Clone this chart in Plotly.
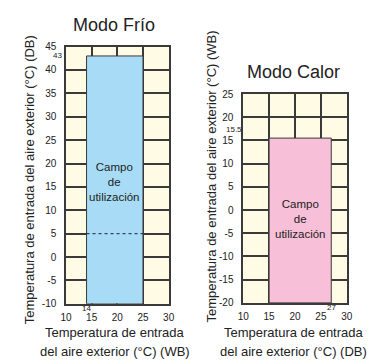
import plotly.graph_objects as go

# ---- data ----
cool_x_range = [14, 25]      # outdoor WB
cool_y_range = [-10, 43]     # outdoor DB
cool_dotted_y = 5
heat_x_range = [15, 27]      # outdoor DB
heat_y_range = [-20, 15.5]   # outdoor WB

cool_yticks = [-10, -5, 0, 5, 10, 15, 20, 25, 30, 35, 40, 45]
heat_yticks = [-20, -15, -10, -5, 0, 5, 10, 15, 20, 25]
xticks = [10, 15, 20, 25, 30]

title_cool = "Modo Frío"
title_heat = "Modo Calor"
ytitle_cool = "Temperatura de entrada del aire exterior (°C) (DB)"
ytitle_heat = "Temperatura de entrada del aire exterior (°C) (WB)"
xtitle_line1 = "Temperatura de entrada"
xtitle_cool_line2 = "del aire exterior (°C) (WB)"
xtitle_heat_line2 = "del aire exterior (°C) (DB)"
area_label = "Campo<br>de<br>utilización"

W, H = 377, 364
FONT = "Liberation Sans, Arial, sans-serif"
TXT = "#222"
GRID = "#3a3a3a"
CREAM = "#fffbe4"
BLUE = "#a8dcf6"
PINK = "#f7c0d8"


def px(x):
    return x / W


def py(y):
    return 1 - y / H


def lbl(v):
    return str(v)


fig = go.Figure()

# cooling rectangle
fig.add_trace(go.Scatter(
    x=[cool_x_range[0], cool_x_range[1], cool_x_range[1], cool_x_range[0], cool_x_range[0]],
    y=[cool_y_range[0], cool_y_range[0], cool_y_range[1], cool_y_range[1], cool_y_range[0]],
    fill="toself", fillcolor=BLUE, mode="lines",
    line=dict(color=GRID, width=1), xaxis="x", yaxis="y", hoverinfo="skip"))
fig.add_trace(go.Scatter(
    x=cool_x_range, y=[cool_dotted_y, cool_dotted_y], mode="lines",
    line=dict(color="#1a1a3a", width=1, dash="dot"), xaxis="x", yaxis="y", hoverinfo="skip"))
# heating rectangle
fig.add_trace(go.Scatter(
    x=[heat_x_range[0], heat_x_range[1], heat_x_range[1], heat_x_range[0], heat_x_range[0]],
    y=[heat_y_range[0], heat_y_range[0], heat_y_range[1], heat_y_range[1], heat_y_range[0]],
    fill="toself", fillcolor=PINK, mode="lines",
    line=dict(color=GRID, width=1), xaxis="x2", yaxis="y2", hoverinfo="skip"))

axis_common = dict(
    showgrid=True, gridcolor=GRID, gridwidth=1.5,
    showline=True, linecolor=GRID, linewidth=1.5, mirror=True,
    zeroline=False, ticks="outside", tickcolor="rgba(0,0,0,0)",
    tickfont=dict(family=FONT, size=10, color=TXT),
    fixedrange=True,
)

fig.update_layout(
    width=W, height=H,
    margin=dict(l=0, r=0, t=0, b=0),
    paper_bgcolor="white", plot_bgcolor=CREAM,
    showlegend=False,
    xaxis=dict(domain=[px(62), px(168)], range=[10, 30], anchor="y",
               tickvals=xticks, ticktext=[lbl(v) for v in xticks], ticklen=3, **axis_common),
    yaxis=dict(domain=[py(308), py(42)], range=[-10, 45], anchor="x",
               tickvals=cool_yticks, ticktext=[lbl(v) for v in cool_yticks], ticklen=6, **axis_common),
    xaxis2=dict(domain=[px(245), px(352)], range=[10, 30], anchor="y2",
                tickvals=xticks, ticktext=[lbl(v) for v in xticks], ticklen=3, **axis_common),
    yaxis2=dict(domain=[py(307), py(91)], range=[-20, 25], anchor="x2",
                tickvals=heat_yticks, ticktext=[lbl(v) for v in heat_yticks], ticklen=6, **axis_common),
)

ann = []


def add(text, x, y, size, xref="paper", yref="paper", angle=0):
    ann.append(dict(text=text, x=x, y=y, xref=xref, yref=yref, textangle=angle,
                    xanchor="center", yanchor="middle", showarrow=False,
                    font=dict(family=FONT, size=size, color=TXT)))


# titles
add(title_cool, px(112), py(20), 18)
add(title_heat, px(297), py(68), 18)
# y titles
add(ytitle_cool, px(24), py(180), 13, angle=-90)
add(ytitle_heat, px(212), py(176), 13, angle=-90)
# x titles
add(xtitle_line1, px(113), py(338), 13)
add(xtitle_cool_line2, px(113), py(357), 13)
add(xtitle_line1, px(297), py(338), 13)
add(xtitle_heat_line2, px(297), py(357), 13)
# area labels
add(area_label, sum(cool_x_range) / 2, 16, 11.5, xref="x", yref="y")
add(area_label, (heat_x_range[0] + heat_x_range[1]) / 2, -2, 11.5, xref="x2", yref="y2")
# small limit labels
add(lbl(cool_y_range[1]), px(53), cool_y_range[1], 8, yref="y")
add(lbl(cool_x_range[0]), cool_x_range[0], py(313), 8, xref="x")
add(lbl(heat_y_range[1]), px(235), heat_y_range[1] + 1.8, 8, yref="y2")
add(lbl(heat_x_range[1]), heat_x_range[1], py(312), 8, xref="x2")
fig.update_layout(annotations=ann)

fig.write_html("out.html", post_script="document.body.style.margin='0';",
               config={"displayModeBar": False})
